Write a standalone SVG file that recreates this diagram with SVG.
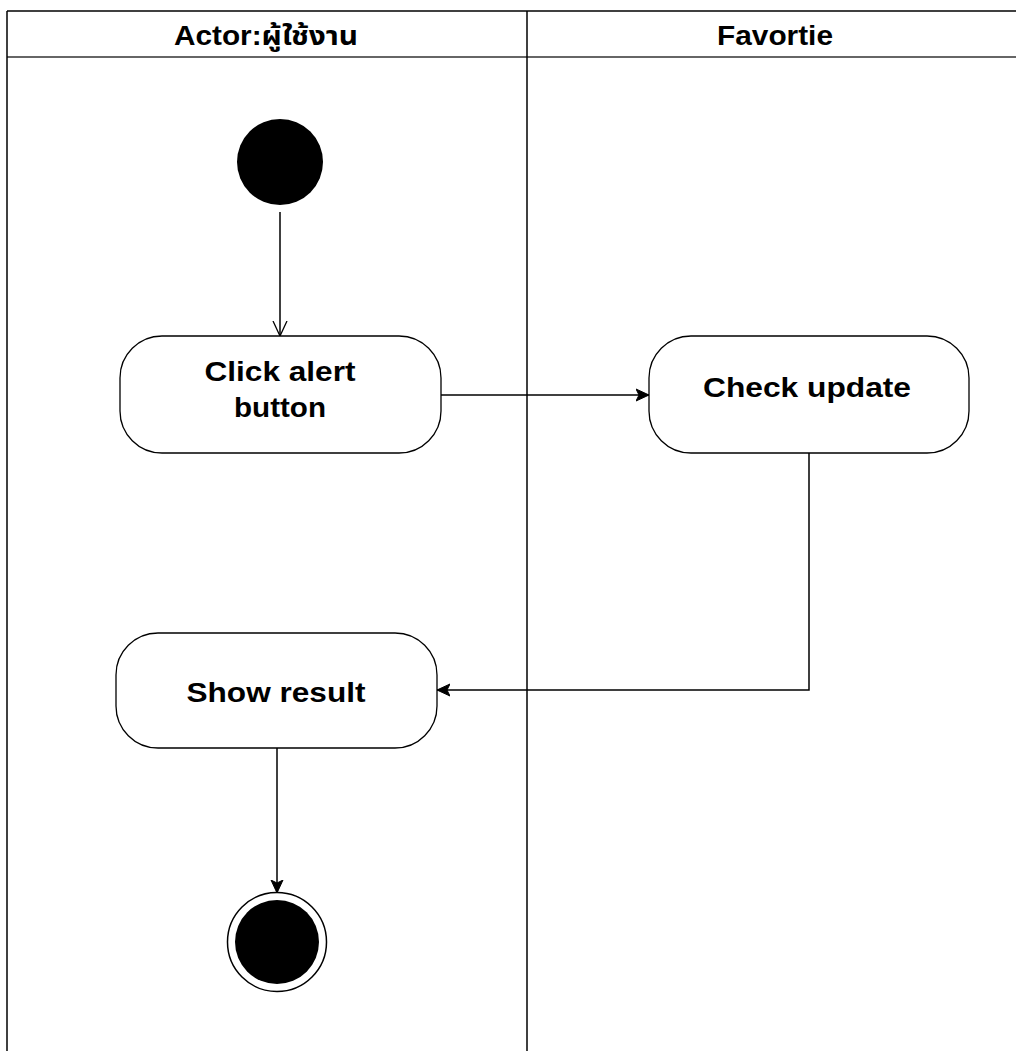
<svg xmlns="http://www.w3.org/2000/svg" width="1016" height="1051" viewBox="0 0 1016 1051">
  <style>
    .lane { fill: none; stroke: #000; stroke-width: 1.5; }
    .head { font-family: "Liberation Sans", Arial, "Noto Sans Thai", "Noto Sans", sans-serif; font-size: 27px; font-weight: bold; fill: #000; text-anchor: middle; }
    .act { fill: #fff; stroke: #000; stroke-width: 1.3; }
    .label { font-family: "Liberation Sans", Arial, sans-serif; font-size: 28px; font-weight: bold; fill: #000; text-anchor: middle; }
    .edge { fill: none; stroke: #000; stroke-width: 1.5; }
  </style>
  <defs>
    <marker id="open" markerWidth="16" markerHeight="16" refX="15" refY="8" orient="auto" markerUnits="userSpaceOnUse">
      <path d="M0,1 L15,8 L0,15" fill="none" stroke="#000" stroke-width="1.3"/>
    </marker>
    <marker id="solid" markerWidth="14" markerHeight="14" refX="13" refY="7" orient="auto" markerUnits="userSpaceOnUse">
      <path d="M0,1 L13,7 L0,13 L3,7 Z" fill="#000" stroke="#000" stroke-width="1"/>
    </marker>
  </defs>

  <rect width="1016" height="1051" fill="#fff"/>

  <!-- swimlane frame -->
  <g id="lanes">
    <line class="lane" x1="7" y1="11" x2="1018" y2="11" stroke-width="2"/>
    <line class="lane" x1="7" y1="57" x2="1018" y2="57" stroke-width="2" style="stroke:#333"/>
    <line class="lane" x1="7" y1="11" x2="7" y2="1052"/>
    <line class="lane" x1="527" y1="11" x2="527" y2="1052"/>
    <text class="head" x="266" y="45" textLength="184" lengthAdjust="spacingAndGlyphs">Actor:ผู้ใช้งาน</text>
    <text class="head" x="775" y="45" textLength="116" lengthAdjust="spacingAndGlyphs">Favortie</text>
  </g>

  <!-- connectors -->
  <g id="connectors">
    <path class="edge" d="M280,212 L280,336" marker-end="url(#open)"/>
    <path class="edge" d="M441,395 L649,395" marker-end="url(#solid)"/>
    <path class="edge" d="M809,453 L809,690 L437,690" marker-end="url(#solid)"/>
    <path class="edge" d="M277,748 L277,893" marker-end="url(#solid)"/>
  </g>

  <g id="start">
    <circle cx="280" cy="162" r="43" fill="#000"/>
  </g>

  <g id="click-alert">
    <rect class="act" x="120" y="336" width="321" height="117" rx="42" ry="42"/>
    <text class="label" x="280" y="381" textLength="151" lengthAdjust="spacingAndGlyphs">Click alert</text>
    <text class="label" x="280" y="417" textLength="92" lengthAdjust="spacingAndGlyphs">button</text>
  </g>

  <g id="check-update">
    <rect class="act" x="649" y="336" width="320" height="117" rx="42" ry="42"/>
    <text class="label" x="807" y="397" textLength="208" lengthAdjust="spacingAndGlyphs">Check update</text>
  </g>

  <g id="show-result">
    <rect class="act" x="116" y="633" width="321" height="115" rx="42" ry="42"/>
    <text class="label" x="276" y="702" textLength="179" lengthAdjust="spacingAndGlyphs">Show result</text>
  </g>

  <g id="end">
    <circle cx="277" cy="942" r="49.5" fill="#fff" stroke="#000" stroke-width="1.5"/>
    <circle cx="277" cy="942" r="42" fill="#000"/>
  </g>
</svg>
